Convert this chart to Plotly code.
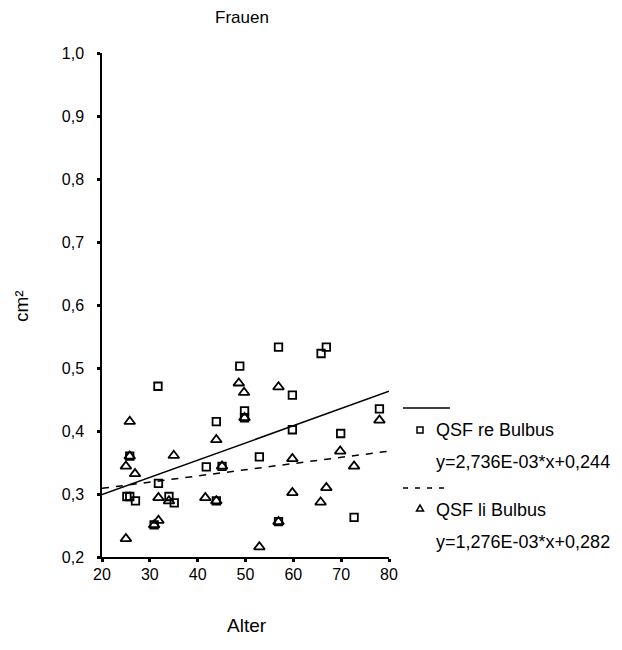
import plotly.graph_objects as go

# ---- data ----
re_age = [25.2, 25.8, 27.0, 25.8, 30.9, 31.7, 31.8, 34.0, 35.1, 41.8, 43.9, 43.9, 45.1,
          48.8, 49.8, 49.8, 52.9, 56.9, 56.9, 59.8, 59.8, 65.8, 66.9, 69.9, 72.7, 78.0]
re_qsf = [0.296, 0.296, 0.289, 0.360, 0.251, 0.471, 0.317, 0.296, 0.286, 0.343, 0.415, 0.289, 0.344,
          0.503, 0.432, 0.421, 0.359, 0.533, 0.256, 0.457, 0.402, 0.523, 0.533, 0.396, 0.263, 0.435]

li_age = [25.0, 25.0, 25.8, 25.8, 26.9, 30.9, 31.8, 31.8, 34.0, 35.0, 41.6, 43.9, 43.9, 45.1,
          48.6, 49.7, 49.8, 52.9, 56.9, 56.9, 59.8, 59.8, 65.7, 66.9, 69.8, 72.7, 78.0]
li_qsf = [0.229, 0.344, 0.415, 0.360, 0.332, 0.251, 0.258, 0.294, 0.289, 0.361, 0.294, 0.289, 0.386, 0.344,
          0.476, 0.461, 0.421, 0.216, 0.470, 0.256, 0.356, 0.302, 0.287, 0.310, 0.368, 0.344, 0.417]

fit_x = [20, 80]
re_fit_y = [0.299, 0.463]
li_fit_y = [0.309, 0.368]

re_name = "QSF re Bulbus"
li_name = "QSF li Bulbus"
re_eq = "y=2,736E-03*x+0,244"
li_eq = "y=1,276E-03*x+0,282"

x_ticks = [20, 30, 40, 50, 60, 70, 80]
y_ticks = [0.2, 0.3, 0.4, 0.5, 0.6, 0.7, 0.8, 0.9, 1.0]

title_text = "Frauen"
x_title = "Alter"
y_title = "cm²"

# ---- layout geometry (pixels, page coordinates; page has an 8px body margin) ----
W, H = 622, 650
OFF = 8
PLOT_L, PLOT_R, PLOT_T, PLOT_B = 102, 389, 53, 557
L = PLOT_L - OFF
T = PLOT_T - OFF
R = W - (PLOT_R - OFF)
B = H - (PLOT_B - OFF)
PW, PH = PLOT_R - PLOT_L, PLOT_B - PLOT_T

def px(xp):
    return (xp - PLOT_L) / PW

def py(yp):
    return (PLOT_B - yp) / PH

FONT = "Liberation Sans, Arial, sans-serif"

fig = go.Figure()

fig.add_trace(go.Scatter(x=fit_x, y=re_fit_y, mode="lines",
                         line=dict(color="black", width=1.5), showlegend=False,
                         hoverinfo="skip"))
fig.add_trace(go.Scatter(x=fit_x, y=li_fit_y, mode="lines",
                         line=dict(color="black", width=1.5, dash="7px,7px"),
                         showlegend=False, hoverinfo="skip"))
fig.add_trace(go.Scatter(x=re_age, y=re_qsf, mode="markers", name=re_name,
                         marker=dict(symbol="square-open", size=7.5, color="black",
                                     line=dict(width=1.8, color="black")),
                         showlegend=False))
fig.add_trace(go.Scatter(x=li_age, y=li_qsf, mode="markers", name=li_name,
                         marker=dict(symbol="triangle-up-open", size=9.5, color="black",
                                     line=dict(width=1.8, color="black")),
                         showlegend=False))

axis_common = dict(showgrid=False, zeroline=False, showline=True, linecolor="black",
                   linewidth=1.5, ticks="outside", ticklen=3, tickwidth=3,
                   tickcolor="black", tickfont=dict(family=FONT, size=16, color="black"))

fig.update_xaxes(range=[20, 80], tickvals=x_ticks, tickformat="d",
                 ticklabelstandoff=-1, **axis_common)
fig.update_yaxes(range=[0.2, 1.0], tickvals=y_ticks, tickformat=".1f",
                 ticklabelstandoff=10, **axis_common)

ann = []
ann.append(dict(text=title_text, x=px(242), y=py(17), xref="paper", yref="paper",
                showarrow=False, xanchor="center", yanchor="middle",
                font=dict(family=FONT, size=17, color="black")))
ann.append(dict(text=x_title, x=px(247), y=py(625), xref="paper", yref="paper",
                showarrow=False, xanchor="center", yanchor="middle",
                font=dict(family=FONT, size=19, color="black")))
ann.append(dict(text=y_title, x=px(21), y=py(306), xref="paper", yref="paper",
                showarrow=False, xanchor="center", yanchor="middle", textangle=-90,
                font=dict(family=FONT, size=19, color="black")))

leg_x = 434
for txt, yy in [(re_name, 430), (re_eq, 462), (li_name, 510), (li_eq, 542)]:
    ann.append(dict(text=txt, x=px(leg_x), y=py(yy), xref="paper", yref="paper",
                    showarrow=False, xanchor="left", yanchor="middle",
                    font=dict(family=FONT, size=18, color="black")))

shapes = []
shapes.append(dict(type="line", xref="paper", yref="paper",
                   x0=px(403), x1=px(450), y0=py(408), y1=py(408),
                   line=dict(color="black", width=1.5)))
shapes.append(dict(type="line", xref="paper", yref="paper",
                   x0=px(403), x1=px(450), y0=py(488), y1=py(488),
                   line=dict(color="black", width=1.5, dash="5px,7px")))
# legend glyphs
shapes.append(dict(type="rect", xref="paper", yref="paper",
                   x0=px(417), x1=px(423), y0=py(427), y1=py(433),
                   line=dict(color="black", width=1.5)))
tri = "M {:.5f} {:.5f} L {:.5f} {:.5f} L {:.5f} {:.5f} Z".format(
    px(416.5), py(511), px(423.5), py(511), px(420), py(505))
shapes.append(dict(type="path", xref="paper", yref="paper", path=tri,
                   line=dict(color="black", width=1.5)))

fig.update_layout(width=W, height=H, margin=dict(l=L, r=R, t=T, b=B, pad=0),
                  paper_bgcolor="white", plot_bgcolor="white",
                  separators=",.", annotations=ann, shapes=shapes,
                  showlegend=False)

fig.write_html("out.html")
